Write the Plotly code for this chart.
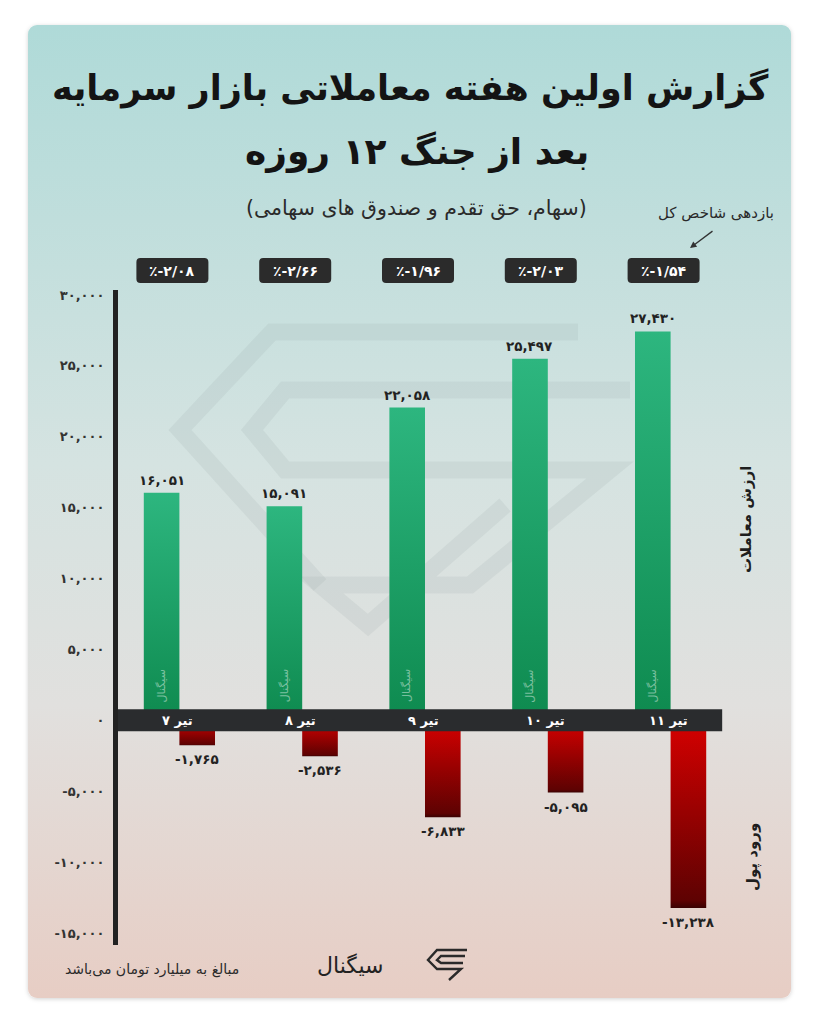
import base64
import plotly.graph_objects as go

# داده ها
categories = ["۷ تیر", "۸ تیر", "۹ تیر", "۱۰ تیر", "۱۱ تیر"]
trade_value = [16051, 15091, 22058, 25497, 27430]      # ارزش معاملات
money_inflow = [-1765, -2536, -6833, -5095, -13238]    # ورود پول
index_return = [-2.08, -2.66, -1.96, -2.03, -1.54]     # بازدهی شاخص کل
tick_vals = [-15000, -10000, -5000, 0, 5000, 10000, 15000, 20000, 25000, 30000]

FA = str.maketrans("0123456789", "۰۱۲۳۴۵۶۷۸۹")
RLM = "\u200f"


def fa_num(n):
    return "{:,}".format(n).translate(FA)


def fa_pct(p):
    return ("٪" + "{:.2f}".format(p).replace(".", "/")).translate(FA)


W, H = 819, 1024
L, R, T, B = 118, 87, 290, 79
PW, PH = W - L - R, H - T - B


def px(x):
    return (x - L) / PW


def py(y):
    return 1 - (y - T) / PH


FONT = "DejaVu Sans"

# پس زمینه کارت با گرادیان
svg = """<svg xmlns='http://www.w3.org/2000/svg' width='819' height='1024' viewBox='0 0 819 1024'>
<defs>
<linearGradient id='g' x1='0' y1='0' x2='0' y2='1'>
<stop offset='0' stop-color='#afdad8'/>
<stop offset='0.45' stop-color='#d5e3e1'/>
<stop offset='0.7' stop-color='#e1e0de'/>
<stop offset='1' stop-color='#e7cdc4'/>
</linearGradient>
<filter id='s' x='-5%' y='-5%' width='110%' height='110%'><feDropShadow dx='0' dy='1' stdDeviation='2' flood-opacity='0.18'/></filter>
</defs>
<rect x='28' y='25' width='763' height='973' rx='9' fill='url(#g)' filter='url(#s)'/>
<g fill='none' stroke='#8a9a9a' stroke-opacity='0.13' stroke-width='17' stroke-linejoin='miter'>
<path d='M578 332 L272 332 L180 430 L320 585'/>
<path d='M630 390 L285 390 L252 430 L285 470 L610 470 L470 585 L320 585 L368 625 L505 505'/>
</g>
<g fill='none' stroke='#2a2a2a' stroke-width='2.4' stroke-linejoin='miter'>
<path d='M467 950 L437 950 L428 960 L437 969 L461 969 L449 980'/>
<path d='M465 956 L441 956 L437 960 L441 963 L463 963'/>
</g>
</svg>"""
bg_src = "data:image/svg+xml;base64," + base64.b64encode(svg.encode("utf-8")).decode()

fig = go.Figure()

bar_w = 0.29

# ستون های ارزش معاملات
for i, v in enumerate(trade_value):
    x0, x1 = i - bar_w, i
    fig.add_trace(go.Scatter(x=[x0, x0, x1, x1, x0], y=[0, v, v, 0, 0],
                             fill="toself", mode="lines", line=dict(width=0),
                             fillgradient=dict(type="vertical",
                                               colorscale=[[0, "#0e8a4f"], [1, "#2db67f"]]),
                             showlegend=False, hoverinfo="skip"))

# ستون های ورود پول
for i, v in enumerate(money_inflow):
    x0, x1 = i, i + bar_w
    fig.add_trace(go.Scatter(x=[x0, x0, x1, x1, x0], y=[0, v, v, 0, 0],
                             fill="toself", mode="lines", line=dict(width=0),
                             fillgradient=dict(type="vertical",
                                               colorscale=[[0, "#3a0202"], [0.04, "#5e0202"], [1, "#d60000"]]),
                             showlegend=False, hoverinfo="skip"))

annotations = []
shapes = [dict(type="rect", xref="x", yref="y", x0=-0.5, x1=4.42, y0=-780, y1=780,
               fillcolor="#2a2c2e", line=dict(width=0), layer="above")]

for i, v in enumerate(trade_value):
    annotations.append(dict(x=i - bar_w / 2, y=v, xref="x", yref="y", text=fa_num(v),
                            showarrow=False, yanchor="bottom", yshift=3,
                            font=dict(family=FONT, size=13.5, color="#222222", weight="bold")))
    annotations.append(dict(x=i - bar_w / 2, y=0, xref="x", yref="y", text="سیگنال",
                            showarrow=False, textangle=-90, yanchor="bottom", yshift=16,
                            font=dict(family=FONT, size=11, color="rgba(255,255,255,0.45)")))

for i, v in enumerate(money_inflow):
    annotations.append(dict(x=i + bar_w / 2, y=v, xref="x", yref="y", text=fa_num(v),
                            showarrow=False, yanchor="top", yshift=-4,
                            font=dict(family=FONT, size=13.5, color="#222222", weight="bold")))

# نام روزها روی نوار تیره
for i, c in enumerate(categories):
    annotations.append(dict(x=i, y=0, xref="x", yref="y", text=c, showarrow=False,
                            xanchor="center", yanchor="middle", xshift=-2,
                            font=dict(family=FONT, size=13, color="white", weight="bold")))

# برچسب بازدهی شاخص با کادر گرد
badge = ("M -32,-12.5 L 32,-12.5 Q 36,-12.5 36,-8.5 L 36,8.5 Q 36,12.5 32,12.5 "
         "L -32,12.5 Q -36,12.5 -36,8.5 L -36,-8.5 Q -36,-12.5 -32,-12.5 Z")
for i, p in enumerate(index_return):
    shapes.append(dict(type="path", xref="x", yref="paper", xsizemode="pixel", ysizemode="pixel",
                       xanchor=i - 0.057, yanchor=py(270.5), path=badge,
                       fillcolor="#2b2b2b", line=dict(width=0), layer="above"))
    annotations.append(dict(x=i - 0.057, y=py(270.5), xref="x", yref="paper", text=fa_pct(p),
                            showarrow=False, xanchor="center", yanchor="middle",
                            font=dict(family=FONT, size=14, color="white", weight="bold")))


def note(x, y, text, size, color="#2a2a2a", bold=False, angle=0):
    return dict(x=px(x), y=py(y), xref="paper", yref="paper", showarrow=False, text=text,
                xanchor="center", yanchor="middle", textangle=angle,
                font=dict(family=FONT, size=size, color=color, weight="bold" if bold else "normal"))


# عنوان و توضیحات
annotations += [
    note(410, 88, "گزارش اولین هفته معاملاتی بازار سرمایه", 35, "#141414", True),
    note(417, 152, "بعد از جنگ ۱۲ روزه", 36, "#141414", True),
    note(416, 208, RLM + "(سهام، حق تقدم و صندوق های سهامی)" + RLM, 20.5),
    note(716, 213, "بازدهی شاخص کل", 15),
    dict(x=px(690), y=py(248), xref="paper", yref="paper", text="", showarrow=True,
         ax=24, ay=-18, arrowhead=2, arrowsize=1, arrowwidth=1.3, arrowcolor="#333333"),
    note(746, 520, "ارزش معاملات", 15, "#1e1e1e", True, -90),
    note(752, 857, "ورود پول", 15, "#1e1e1e", True, -90),
    note(152, 969, "مبالغ به میلیارد تومان می‌باشد", 14),
    note(350, 965, "سیگنال", 22, "#222222"),
]

fig.update_layout(
    width=W, height=H,
    margin=dict(l=L, r=R, t=T, b=B),
    paper_bgcolor="white",
    plot_bgcolor="rgba(0,0,0,0)",
    font=dict(family=FONT),
    showlegend=False,
    xaxis=dict(range=[-0.5, 4.5], visible=False, fixedrange=True),
    yaxis=dict(range=[-15850, 30350], tickvals=tick_vals,
               ticktext=[fa_num(v) for v in tick_vals],
               showgrid=False, zeroline=False, showline=True, linewidth=5, linecolor="#222222",
               ticks="", ticklabelstandoff=6,
               tickfont=dict(family=FONT, size=13, color="#333333", weight="bold")),
    shapes=shapes,
    images=[dict(source=bg_src, xref="paper", yref="paper", x=px(0), y=py(0),
                 sizex=W / PW, sizey=H / PH, xanchor="left", yanchor="top",
                 sizing="stretch", layer="below")],
    annotations=annotations,
)

fig.write_html("out.html", config={"displayModeBar": False},
               post_script="document.body.style.margin='0';")
